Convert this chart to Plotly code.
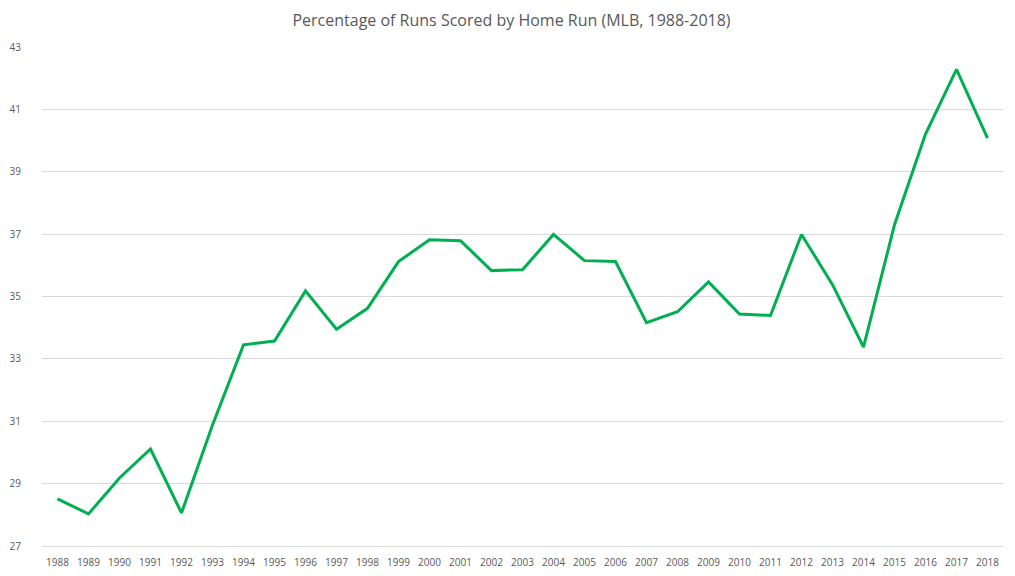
import plotly.graph_objects as go

years = [str(y) for y in range(1988, 2019)]
hr_pct = [28.51, 28.03, 29.18, 30.11, 28.06, 30.88, 33.45, 33.57, 35.18, 33.95,
          34.62, 36.12, 36.82, 36.79, 35.83, 35.86, 36.99, 36.15, 36.12, 34.16,
          34.51, 35.47, 34.44, 34.39, 36.99, 35.38, 33.38, 37.30, 40.21, 42.28,
          40.08]
y_ticks = [27, 29, 31, 33, 35, 37, 39, 41, 43]

fig = go.Figure()
fig.add_trace(go.Scatter(
    x=years, y=hr_pct, mode="lines",
    line=dict(color="#00b050", width=3),
    hoverinfo="x+y", showlegend=False,
))

# page body has an 8px default margin, so the figure is sized to fit the window
fig.update_layout(
    width=1007, height=568,
    margin=dict(l=34, r=12, t=39, b=30),
    paper_bgcolor="white", plot_bgcolor="white",
    font=dict(family="Open Sans, Liberation Sans, sans-serif", color="#595959"),
    title=dict(text="Percentage of Runs Scored by Home Run (MLB, 1988-2018)",
               x=0.5, xanchor="center", y=0.979, yanchor="middle",
               font=dict(size=16, color="#595959")),
    xaxis=dict(type="category", range=[-0.5, 30.5], showgrid=False,
               showline=True, linecolor="#d9d9d9", linewidth=1,
               zeroline=False, ticks="", automargin=False,
               ticklabelstandoff=7,
               tickfont=dict(size=10, color="#595959"), fixedrange=True),
    yaxis=dict(range=[27, 43], tickvals=y_ticks, ticktext=[str(v) for v in y_ticks],
               showgrid=True, gridcolor="#d9d9d9", gridwidth=1,
               zeroline=False, showline=False, ticks="", automargin=False,
               ticklabelstandoff=20,
               tickfont=dict(size=10, color="#595959"), fixedrange=True),
)

fig.write_html("out.html")
